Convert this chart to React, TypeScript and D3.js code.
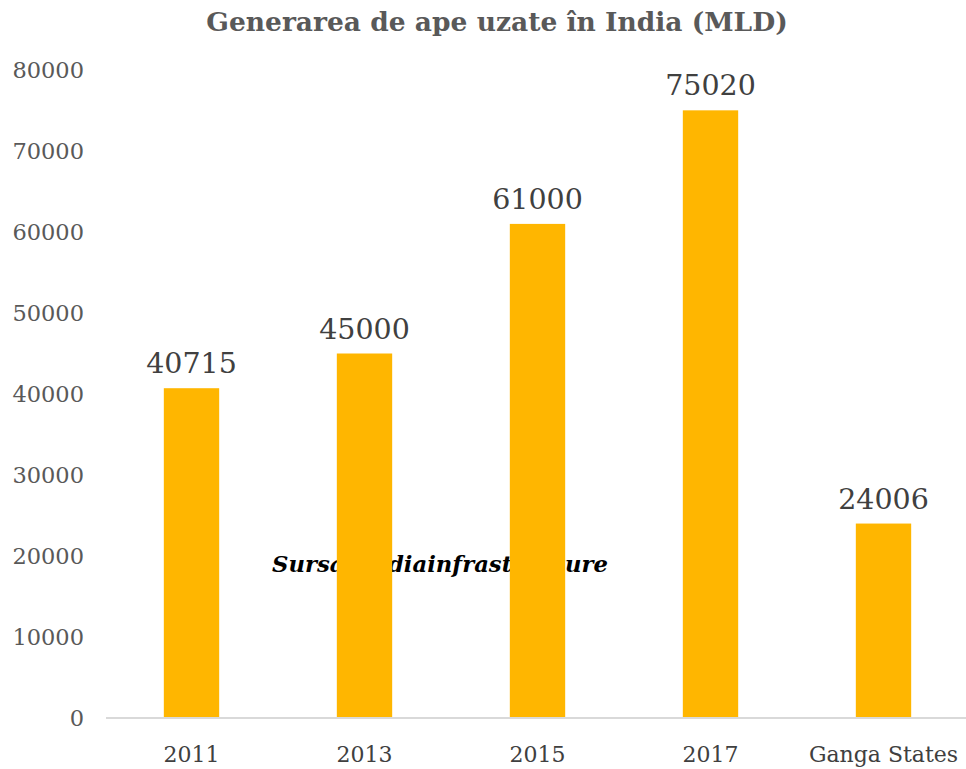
import React from "react";
import * as d3 from "d3";

const categories = ["2011", "2013", "2015", "2017", "Ganga States"];
const values = [40715, 45000, 61000, 75020, 24006];
const yTicks = [0, 10000, 20000, 30000, 40000, 50000, 60000, 70000, 80000];
const titleText = "Generarea de ape uzate în India (MLD)";
const sourceText = "Sursa: Indiainfrastructure";

const W = 966;
const H = 769;
const FONT = "'DejaVu Serif', serif";

export default function App() {
  const x = d3
    .scaleBand<string>()
    .domain(categories)
    .range([105, 970])
    .paddingInner(0.68)
    .paddingOuter(0.34);
  const y = d3.scaleLinear().domain([0, 80000]).range([718, 70]);

  return (
    <svg
      width={W}
      height={H}
      style={{ position: "absolute", left: 0, top: 0, background: "#fff" }}
    >
      <text
        x={497}
        y={31}
        textAnchor="middle"
        fontFamily={FONT}
        fontWeight="bold"
        fontSize={26.5}
        fill="#595959"
      >
        {titleText}
      </text>
      {yTicks.map((t) => (
        <text
          key={t}
          x={84}
          y={y(t)}
          dy="0.35em"
          textAnchor="end"
          fontFamily={FONT}
          fontSize={22.5}
          fill="#595959"
        >
          {t}
        </text>
      ))}
      <text
        x={272}
        y={572}
        fontFamily={FONT}
        fontStyle="italic"
        fontWeight="bold"
        fontSize={22}
        textLength={336}
        lengthAdjust="spacingAndGlyphs"
        fill="#000"
      >
        {sourceText}
      </text>
      {categories.map((c, i) => (
        <g key={c}>
          <rect
            x={x(c)}
            y={y(values[i])}
            width={x.bandwidth()}
            height={y(0) - y(values[i])}
            fill="#FFB600"
          />
          <text
            x={(x(c) as number) + x.bandwidth() / 2}
            y={y(values[i]) - 15}
            textAnchor="middle"
            fontFamily={FONT}
            fontSize={28.5}
            fill="#404040"
          >
            {values[i]}
          </text>
          <text
            x={(x(c) as number) + x.bandwidth() / 2}
            y={762}
            textAnchor="middle"
            fontFamily={FONT}
            fontSize={22}
            fill="#404040"
          >
            {c}
          </text>
        </g>
      ))}
      <line x1={106} x2={966} y1={y(0)} y2={y(0)} stroke="#d9d9d9" strokeWidth={2} />
    </svg>
  );
}
